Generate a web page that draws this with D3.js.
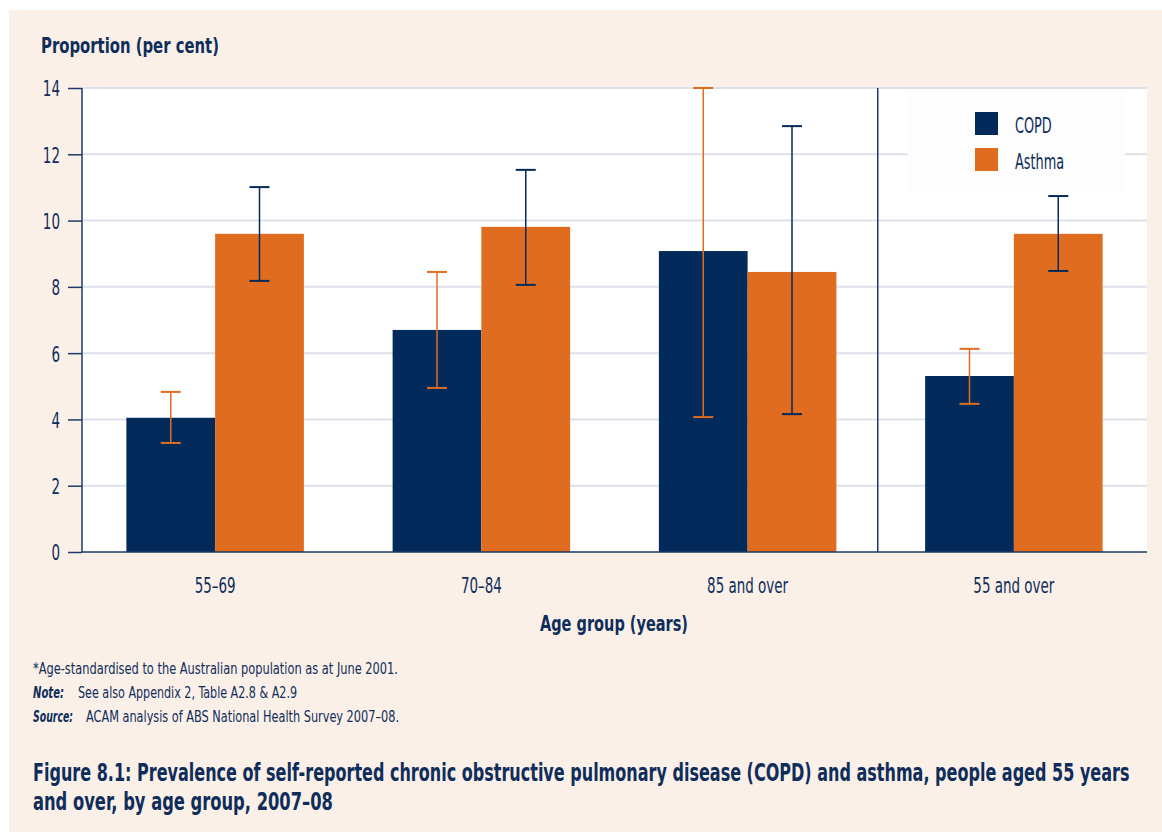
<html>

<head>

<script src="https://d3js.org/d3.v7.min.js"></script>

<style>

    body {
        margin: 0;
        background: #ffffff;
    }

    svg {
        display: block;
        font-family: 'DejaVu Sans Condensed', 'DejaVu Sans', sans-serif;
    }

    .panel {
        fill: #faf0e8;
    }

    .txt {
        fill: #0e2d5a;
    }

    .grid line {
        stroke: #dde2ea;
        stroke-width: 2;
    }

    .axis-line {
        stroke: #1e3a66;
        stroke-width: 1.5;
    }

</style>

</head>

<body>

<svg id='chart' width=1162 height=832></svg>

<script>

    var categories = ['55\u201369', '70\u201384', '85 and over', '55 and over'];

    var copd = [4.05, 6.70, 9.08, 5.31],
        copdLow = [3.29, 4.95, 4.07, 4.47],
        copdHigh = [4.83, 8.45, 14.0, 6.13];

    var asthma = [9.60, 9.81, 8.45, 9.60],
        asthmaLow = [8.18, 8.06, 4.16, 8.48],
        asthmaHigh = [11.01, 11.53, 12.85, 10.74];

    var series = ['COPD', 'Asthma'];
    var yTicks = [0, 2, 4, 6, 8, 10, 12, 14];

    var navy = '#022b5c',
        orange = '#e06c1f';

    var svg = d3.select('#chart');

    var plot = {left: 82, right: 1147, top: 88, bottom: 552};

    // the original uses a condensed face, so squeeze the wider fallback font
    function fitTo(sel, w) {
        sel.attr('textLength', w).attr('lengthAdjust', 'spacingAndGlyphs');
    }

    function condense(sel, k) {
        sel.each(function() {
            this.setAttribute('textLength', this.getComputedTextLength() * k);
            this.setAttribute('lengthAdjust', 'spacingAndGlyphs');
        });
    }

    // long lines: scale the whole text horizontally so its box stays honest
    function squeezeLine(parent, str, x0, y0, w) {
        var g = parent.append('g');
        var t = g.append('text').attr('x', 0).attr('y', 0).text(str);
        var k = w / t.node().getComputedTextLength();
        g.attr('transform', 'translate(' + x0 + ',' + y0 + ') scale(' + k + ',1)');
        return t;
    }

    svg.append('rect')
        .attr('class', 'panel')
        .attr('x', 9).attr('y', 10)
        .attr('width', 1162 - 9).attr('height', 832 - 10);

    svg.append('rect')
        .attr('x', plot.left).attr('y', plot.top)
        .attr('width', plot.right - plot.left)
        .attr('height', plot.bottom - plot.top)
        .attr('fill', '#ffffff');

    var x = d3.scaleBand()
        .domain(categories)
        .range([plot.left, plot.right]);

    var xs = d3.scaleBand()
        .domain(series)
        .range([0, x.bandwidth()])
        .paddingOuter(0.5);

    var y = d3.scaleLinear()
        .domain([0, 14])
        .range([plot.bottom, plot.top]);

    // gridlines
    svg.append('g')
        .attr('class', 'grid')
        .selectAll('line')
        .data(yTicks.slice(1))
      .enter()
        .append('line')
        .attr('x1', plot.left).attr('x2', plot.right)
        .attr('y1', function(d) { return y(d); })
        .attr('y2', function(d) { return y(d); });

    // rows of bar data built from the arrays
    var rows = categories.map(function(c, i) {
        return [
            {cat: c, s: 'COPD', v: copd[i], lo: copdLow[i], hi: copdHigh[i], fill: navy, err: orange},
            {cat: c, s: 'Asthma', v: asthma[i], lo: asthmaLow[i], hi: asthmaHigh[i], fill: orange, err: navy}
        ];
    });
    var bars = [].concat.apply([], rows);

    svg.append('g').selectAll('rect')
        .data(bars)
      .enter()
        .append('rect')
        .attr('x', function(d) { return x(d.cat) + xs(d.s); })
        .attr('y', function(d) { return y(d.v); })
        .attr('width', xs.bandwidth())
        .attr('height', function(d) { return y(0) - y(d.v); })
        .attr('fill', function(d) { return d.fill; });

    // divider before the total group
    svg.append('line')
        .attr('class', 'axis-line')
        .attr('x1', x(categories[3]) - 3).attr('x2', x(categories[3]) - 3)
        .attr('y1', plot.top).attr('y2', plot.bottom);

    // error bars
    var capW = 10;
    var errs = svg.append('g').selectAll('g')
        .data(bars)
      .enter()
        .append('g')
        .attr('stroke', function(d) { return d.err; })
        .attr('stroke-width', 1.5);

    function cx(d) { return x(d.cat) + xs(d.s) + xs.bandwidth() / 2; }

    errs.append('line')
        .attr('x1', cx).attr('x2', cx)
        .attr('y1', function(d) { return y(d.lo); })
        .attr('y2', function(d) { return y(d.hi); });

    errs.append('line')
        .attr('x1', function(d) { return cx(d) - capW; })
        .attr('x2', function(d) { return cx(d) + capW; })
        .attr('y1', function(d) { return y(d.hi); })
        .attr('y2', function(d) { return y(d.hi); })
        .attr('stroke-width', 2);

    errs.append('line')
        .attr('x1', function(d) { return cx(d) - capW; })
        .attr('x2', function(d) { return cx(d) + capW; })
        .attr('y1', function(d) { return y(d.lo); })
        .attr('y2', function(d) { return y(d.lo); })
        .attr('stroke-width', 2);

    // y axis
    var yAxis = svg.append('g')
        .attr('transform', 'translate(' + plot.left + ',0)')
        .call(d3.axisLeft(y).tickValues(yTicks).tickSize(14).tickPadding(8));

    yAxis.attr('font-family', null).attr('font-size', null);
    yAxis.select('.domain').remove();
    yAxis.selectAll('line').attr('stroke', '#1e3a66').attr('stroke-width', 1.5);
    yAxis.selectAll('text')
        .attr('class', 'txt')
        .attr('fill', null)
        .attr('dy', '0.36em')
        .style('font-size', '22px')
        .call(condense, 0.68);

    svg.append('line')
        .attr('class', 'axis-line')
        .attr('x1', plot.left).attr('x2', plot.left)
        .attr('y1', plot.top).attr('y2', plot.bottom);

    svg.append('line')
        .attr('class', 'axis-line')
        .attr('x1', plot.left).attr('x2', plot.right)
        .attr('y1', plot.bottom).attr('y2', plot.bottom);

    // x labels
    svg.append('g').selectAll('text')
        .data(categories)
      .enter()
        .append('text')
        .attr('class', 'txt')
        .attr('x', function(d) { return x(d) + x.bandwidth() / 2; })
        .attr('y', 593)
        .attr('text-anchor', 'middle')
        .style('font-size', '22px')
        .text(function(d) { return d; })
        .call(condense, 0.68);

    svg.append('text')
        .attr('class', 'txt')
        .attr('x', 614).attr('y', 631)
        .attr('text-anchor', 'middle')
        .style('font-size', '22px')
        .style('font-weight', 'bold')
        .text('Age group (years)')
        .call(fitTo, 148);

    svg.append('text')
        .attr('class', 'txt')
        .attr('x', 41).attr('y', 53)
        .style('font-size', '22px')
        .style('font-weight', 'bold')
        .text('Proportion (per cent)')
        .call(fitTo, 178);

    // legend
    var legend = svg.append('g');

    legend.append('rect')
        .attr('x', 908).attr('y', 95)
        .attr('width', 217).attr('height', 95)
        .attr('fill', '#fdfdfe');

    var items = legend.selectAll('.item')
        .data(series)
      .enter()
        .append('g')
        .attr('class', 'item')
        .attr('transform', function(d, i) { return 'translate(975,' + (112 + i * 36) + ')'; });

    items.append('rect')
        .attr('width', 23).attr('height', 23)
        .attr('fill', function(d, i) { return i === 0 ? navy : orange; });

    items.append('text')
        .attr('class', 'txt')
        .attr('x', 40).attr('y', 21)
        .style('font-size', '22px')
        .text(function(d) { return d; })
        .call(condense, 0.65);

    // notes
    var notes = svg.append('g')
        .attr('class', 'txt')
        .style('font-size', '15px');

    notes.append('text')
        .attr('x', 33).attr('y', 674)
        .text('*Age-standardised to the Australian population as at June 2001.')
        .call(fitTo, 365);

    var n1 = notes.append('text').attr('y', 698);
    n1.append('tspan').attr('x', 33)
        .style('font-weight', 'bold').style('font-style', 'italic')
        .text('Note:').call(fitTo, 31);
    n1.append('tspan').attr('x', 78)
        .text('See also Appendix 2, Table A2.8 & A2.9').call(fitTo, 219);

    var n2 = notes.append('text').attr('y', 722);
    n2.append('tspan').attr('x', 33)
        .style('font-weight', 'bold').style('font-style', 'italic')
        .text('Source:').call(fitTo, 40);
    n2.append('tspan').attr('x', 86)
        .text('ACAM analysis of ABS National Health Survey 2007\u201308.').call(fitTo, 313);

    // figure title
    var title = svg.append('g')
        .attr('class', 'txt')
        .style('font-size', '24px')
        .style('font-weight', 'bold');

    squeezeLine(title, 'Figure 8.1: Prevalence of self-reported chronic obstructive pulmonary disease (COPD) and asthma, people aged 55 years', 33, 781, 1097);
    squeezeLine(title, 'and over, by age group, 2007\u201308', 33, 810, 300);

</script>

</body>

</html>
